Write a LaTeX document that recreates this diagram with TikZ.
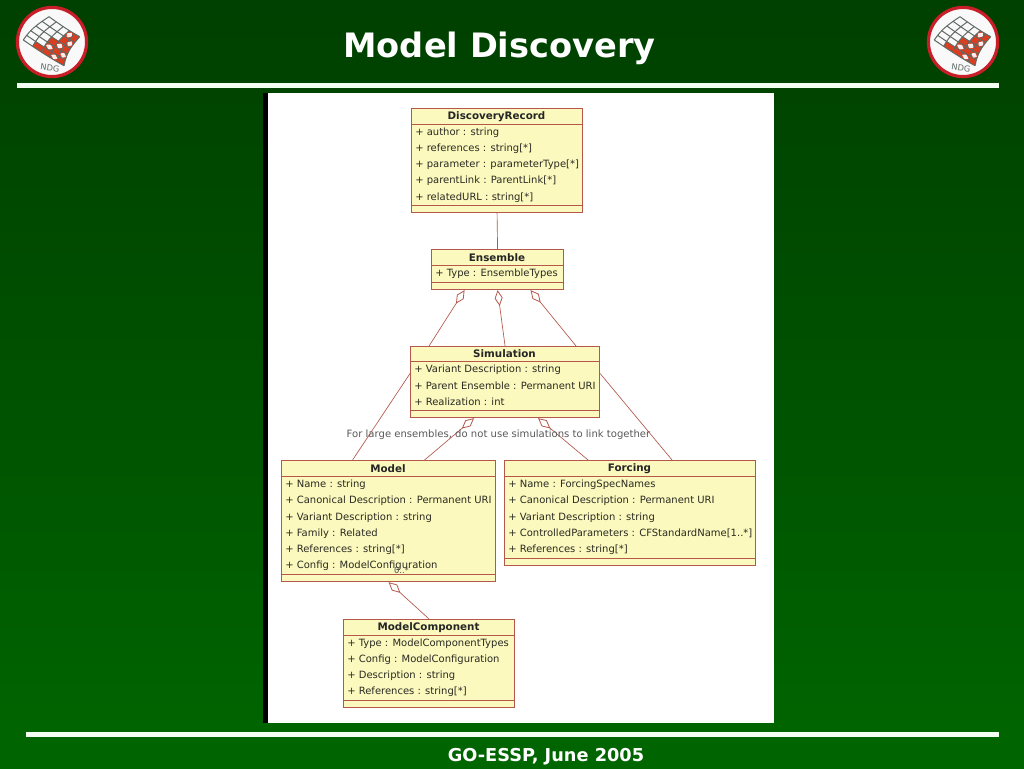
\documentclass[tikz,border=0pt]{standalone}
\usepackage{fontspec}
\setmainfont{DejaVu Sans}
\usetikzlibrary{arrows.meta}
\definecolor{umlline}{HTML}{B4584C}
\definecolor{umlfill}{HTML}{FBF9BE}
\definecolor{umltext}{HTML}{2A2A22}
\definecolor{logored}{HTML}{DC3C20}
\definecolor{logoring}{HTML}{C81E28}
\definecolor{loggray}{HTML}{5E6A64}
\tikzset{
  x=0.75pt,y=-0.75pt,
  declare function={
    sheetx(\u,\v)=(1-\u)*(1-\v)*(-28.7)+\u*(1-\v)*12+(1-\u)*\v*(-3)+\u*\v*27.7-3*sin(180*\v)+2*sin(180*\u);
    sheety(\u,\v)=(1-\u)*(1-\v)*(-2)+\u*(1-\v)*23.7+(1-\u)*\v*(-25.3)+\u*\v*(-5.3)+2*sin(180*\u);
  },
  umlbox/.style={draw=umlline,fill=umlfill,line width=0.85pt,inner sep=0pt,anchor=north west},
  sep/.style={draw=umlline,line width=0.65pt},
  attr/.style={anchor=west,inner sep=0pt,yshift=-0.6pt,font=\fontsize{7.5pt}{9pt}\selectfont,text=umltext},
  head/.style={anchor=center,inner sep=0pt,yshift=-0.6pt,font=\fontsize{7.75pt}{9pt}\selectfont\bfseries,text=black!85},
  assoc/.style={draw=umlline,line width=0.5pt},
  aggr/.style={assoc,{Diamond[open,length=12pt,width=6pt,line width=0.6pt]}-},
  rulebar/.style={fill=white!95!green,draw=none},
  bannertext/.style={text=white,font=\bfseries,inner sep=0pt},
  logo/.pic={
    \fill[white!95!gray] (0,0) circle (35);
    % red cells of the sheet
    \foreach \i/\j in {1/0,2/0,3/0,4/0,2/1,3/1,4/1,2/2,3/2,4/2,3/3,4/3,3/4,4/4}{
      \pgfmathsetmacro{\ua}{\i/5}\pgfmathsetmacro{\ub}{(\i+1)/5}
      \pgfmathsetmacro{\va}{\j/5}\pgfmathsetmacro{\vb}{(\j+1)/5}
      \fill[logored] ({sheetx(\ua,\va)},{sheety(\ua,\va)}) -- ({sheetx(\ub,\va)},{sheety(\ub,\va)}) -- ({sheetx(\ub,\vb)},{sheety(\ub,\vb)}) -- ({sheetx(\ua,\vb)},{sheety(\ua,\vb)}) -- cycle;
    }
    % pale spots in the checker
    \foreach \i/\j in {3/0,2/1,4/1,3/2,4/3,3/4}{
      \pgfmathsetmacro{\ua}{(\i+.5)/5}\pgfmathsetmacro{\va}{(\j+.5)/5}
      \fill[white!92!red] ({sheetx(\ua-0.09,\va)},{sheety(\ua-0.09,\va)}) -- ({sheetx(\ua,\va-0.09)},{sheety(\ua,\va-0.09)}) -- ({sheetx(\ua+0.09,\va)},{sheety(\ua+0.09,\va)}) -- ({sheetx(\ua,\va+0.09)},{sheety(\ua,\va+0.09)}) -- cycle;
    }
    \foreach \k in {0,1,...,5}{
      \pgfmathsetmacro{\t}{\k/5}
      \draw[loggray,line width=0.75pt] plot[smooth,samples=7,domain=0:1,variable=\w] ({sheetx(\t,\w)},{sheety(\t,\w)});
      \draw[loggray,line width=0.75pt] plot[smooth,samples=7,domain=0:1,variable=\w] ({sheetx(\w,\t)},{sheety(\w,\t)});
    }
    \node[rotate=-8,text=loggray,inner sep=0pt,font=\fontsize{6.2pt}{7pt}\selectfont] (-ndg) at (-2,26) {NDG};
    \draw[logoring,line width=2.4pt] (0,0) circle (34.6);
  }
}
\begin{document}
\begin{tikzpicture}
\useasboundingbox (0,0) rectangle (1024,768);
\shade[top color=green!25!black,bottom color=green!40!black,middle color=green!32!black] (0,0) rectangle (1024,768);
\fill[rulebar] (17,83) rectangle (999,87.5);
\fill[rulebar] (26,732) rectangle (999,736.5);
\node[bannertext,font=\fontsize{25.2pt}{30pt}\selectfont\bfseries] (title) at (499.5,48) {Model Discovery};
\node[bannertext,font=\fontsize{13.3pt}{15pt}\selectfont\bfseries] (footer) at (546,757) {GO-ESSP, June 2005};
\pic (logoL) at (52,42) {logo};
\pic (logoR) at (963,42) {logo};
% panel
\fill[white] (263,93) rectangle (774,723);
\fill[black] (263,93) rectangle (268,723);
% boxes
\node[umlbox,minimum width=128.25pt,minimum height=78pt] (dr) at (411,108) {};
\node[umlbox,minimum width=99pt,minimum height=30pt] (ens) at (431,249) {};
\node[umlbox,minimum width=141.75pt,minimum height=53.25pt] (sim) at (410,346) {};
\node[umlbox,minimum width=160.5pt,minimum height=90.75pt] (mod) at (281,460) {};
\node[umlbox,minimum width=188.25pt,minimum height=78.75pt] (forc) at (504,460) {};
\node[umlbox,minimum width=128.25pt,minimum height=66pt] (comp) at (343,619) {};
% compartment lines
\draw[sep] (411,124) -- (582,124) (411,205) -- (582,205);
\draw[sep] (431,265) -- (563,265) (431,282) -- (563,282);
\draw[sep] (410,361.5) -- (599,361.5) (410,410) -- (599,410);
\draw[sep] (281,476) -- (495,476) (281,574) -- (495,574);
\draw[sep] (504,476) -- (755,476) (504,558) -- (755,558);
\draw[sep] (343,635) -- (514,635) (343,700) -- (514,700);
% headers
\node[head] (drh) at (496.5,116) {DiscoveryRecord};
\node[head] (ensh) at (497,257) {Ensemble};
\node[head] (simh) at (504.5,353) {Simulation};
\node[head] (modh) at (388,468) {Model};
\node[head] (forh) at (629.5,468) {Forcing};
\node[head] (comh) at (428.5,627) {ModelComponent};
% attributes
\node[attr] (dr1) at (415,131.5) {+ author : string};
\node[attr] (dr2) at (415,147.5) {+ references : string[*]};
\node[attr] (dr3) at (415,164) {+ parameter : parameterType[*]};
\node[attr] (dr4) at (415,180) {+ parentLink : ParentLink[*]};
\node[attr] (dr5) at (415,196.5) {+ relatedURL : string[*]};
\node[attr] (ens1) at (435,273) {+ Type : EnsembleTypes};
\node[attr] (sim1) at (414,368.5) {+ Variant Description : string};
\node[attr] (sim2) at (414,385) {+ Parent Ensemble : Permanent URI};
\node[attr] (sim3) at (414,401) {+ Realization : int};
\node[attr] (mod1) at (285,484) {+ Name : string};
\node[attr] (mod2) at (285,500) {+ Canonical Description : Permanent URI};
\node[attr] (mod3) at (285,516.5) {+ Variant Description : string};
\node[attr] (mod4) at (285,533) {+ Family : Related};
\node[attr] (mod5) at (285,549) {+ References : string[*]};
\node[attr] (mod6) at (285,565) {+ Config : ModelConfiguration};
\node[attr] (for1) at (508,484) {+ Name : ForcingSpecNames};
\node[attr] (for2) at (508,500) {+ Canonical Description : Permanent URI};
\node[attr] (for3) at (508,516.5) {+ Variant Description : string};
\node[attr] (for4) at (508,533) {+ ControlledParameters : CFStandardName[1..*]};
\node[attr] (for5) at (508,549) {+ References : string[*]};
\node[attr] (com1) at (347,642.5) {+ Type : ModelComponentTypes};
\node[attr] (com2) at (347,658.5) {+ Config : ModelConfiguration};
\node[attr] (com3) at (347,675) {+ Description : string};
\node[attr] (com4) at (347,691) {+ References : string[*]};
% connectors
\draw[assoc] (dr.south) -- (ens.north);
\draw[aggr] ([xshift=-24.75pt]ens.south) -- ([xshift=-57pt]sim.north);
\draw[aggr] (ens.south) -- (sim.north);
\draw[aggr] ([xshift=24.75pt]ens.south) -- ([xshift=53.25pt]sim.north);
\draw[assoc] ([yshift=6.4pt]sim.west) -- ([xshift=-27pt]mod.north);
\draw[assoc] ([yshift=6.4pt]sim.east) -- ([xshift=31.5pt]forc.north);
\draw[aggr] ([xshift=-23.25pt]sim.south) -- ([xshift=27pt]mod.north);
\draw[aggr] ([xshift=24.75pt]sim.south) -- ([xshift=-31.5pt]forc.north);
\draw[aggr] (mod.south) -- (comp.north);
% labels
\node[inner sep=0pt,text=black!65,yshift=-0.6pt,font=\fontsize{7.55pt}{9pt}\selectfont] (note) at (498.5,434) {For large ensembles, do not use simulations to link together};
\node[inner sep=0pt,text=black!70,font=\fontsize{6.3pt}{7pt}\selectfont] (mult) at (401.5,570) {0..*};
\end{tikzpicture}
\end{document}
